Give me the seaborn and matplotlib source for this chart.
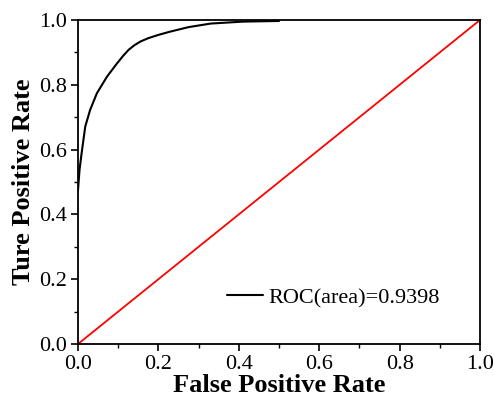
import matplotlib
matplotlib.use("Agg")
import matplotlib.pyplot as plt
import seaborn as sns
import pandas as pd
from matplotlib.ticker import MultipleLocator

fpr = [0.0, 0.004, 0.009, 0.018, 0.03, 0.047, 0.072, 0.097, 0.112, 0.126, 0.14, 0.156, 0.175, 0.2, 0.229, 0.275, 0.33, 0.41, 0.50]
tpr = [0.475, 0.54, 0.589, 0.671, 0.722, 0.774, 0.825, 0.866, 0.889, 0.908, 0.922, 0.934, 0.944, 0.954, 0.964, 0.978, 0.989, 0.995, 0.997]
diag_x = [0.0, 1.0]
diag_y = [0.0, 1.0]
auc_label = "ROC(area)=0.9398"

sns.set_style("ticks")
plt.rcParams['font.family'] = ['Liberation Serif', 'DejaVu Serif']
plt.rcParams['text.color'] = 'black'
plt.rcParams['axes.labelcolor'] = 'black'
plt.rcParams['xtick.color'] = 'black'
plt.rcParams['ytick.color'] = 'black'

fig = plt.figure(figsize=(4.94, 4.0), dpi=100)
ax = fig.add_axes([78/494, 56/400, 402/494, 324/400])

roc = pd.DataFrame({"fpr": fpr, "tpr": tpr})
sns.lineplot(data=roc, x="fpr", y="tpr", ax=ax, color="black", lw=1.5, label=auc_label, sort=False, estimator=None)
sns.lineplot(x=diag_x, y=diag_y, ax=ax, color="red", lw=1.3, estimator=None)

ax.set_xlim(0, 1)
ax.set_ylim(0, 1)
ax.xaxis.set_major_locator(MultipleLocator(0.2))
ax.yaxis.set_major_locator(MultipleLocator(0.2))
ax.xaxis.set_minor_locator(MultipleLocator(0.1))
ax.yaxis.set_minor_locator(MultipleLocator(0.1))
ax.tick_params(which='major', direction='out', length=5, width=1.2, labelsize=16, colors='black', pad=3)
ax.tick_params(which='minor', direction='out', length=3, width=1.0)
for s in ax.spines.values():
    s.set_linewidth(1.3)
    s.set_color('black')

ax.set_xlabel("False Positive Rate", fontsize=19, fontweight='bold', labelpad=0)
ax.set_ylabel("Ture Positive Rate", fontsize=19, fontweight='bold', labelpad=3)

leg = ax.legend(loc='center left', bbox_to_anchor=(0.371, 0.142), frameon=False, fontsize=16,
                handlelength=1.6, handletextpad=0.25, borderpad=0, borderaxespad=0)
for t in leg.get_texts():
    t.set_color('black')

fig.savefig("out.png", dpi=100)
